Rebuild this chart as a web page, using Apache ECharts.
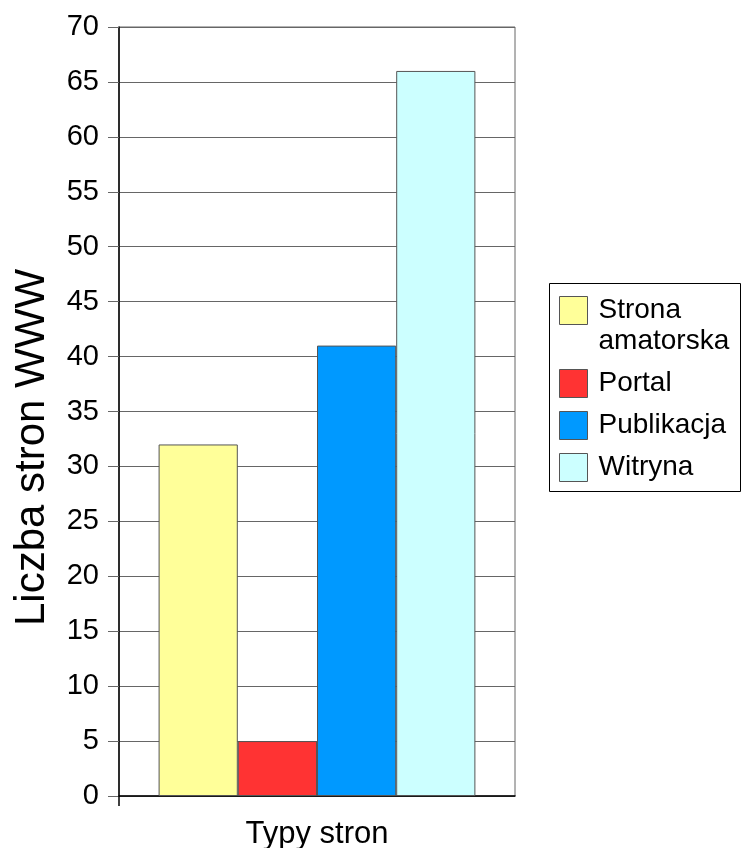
<!DOCTYPE html>
<html>
<head>
<meta charset="utf-8">
<title>Typy stron</title>
<script src="https://cdn.jsdelivr.net/npm/echarts@6/dist/echarts.min.js"></script>
<style>
  html, body { margin: 0; padding: 0; background: #ffffff; }
  #chart { width: 741px; height: 848px; }
</style>
</head>
<body>
<div id="chart"></div>
<script>
// Data
const categories = ['Typy stron'];
const seriesNames = ['Strona amatorska', 'Portal', 'Publikacja', 'Witryna'];
const seriesValues = [32, 5, 41, 66];
const seriesColors = ['#FFFF99', '#FF3333', '#0099FF', '#CCFFFF'];
const yTicks = { min: 0, max: 70, interval: 5 };

const FONT = 'Liberation Sans, Arial, sans-serif';

const chart = echarts.init(document.getElementById('chart'), null, { renderer: 'canvas' });

const series = seriesNames.map((name, i) => ({
  name: name,
  type: 'bar',
  xAxisIndex: 0,
  data: [seriesValues[i]],
  barGap: '0%',
  barCategoryGap: '20%',
  itemStyle: { color: seriesColors[i], borderColor: '#555555', borderWidth: 1 },
  emphasis: { disabled: true }
}));

// Legend entries; the leading empty line keeps the swatch beside "Strona"
const legendData = seriesNames.map(name => ({
  name: name,
  itemStyle: { borderColor: '#555555', borderWidth: 1 }
}));

chart.setOption({
  animation: false,
  backgroundColor: '#ffffff',
  textStyle: { fontFamily: FONT },
  grid: {
    left: 119, right: 226, top: 27, bottom: 52,
    outerBoundsMode: 'none',
    containLabel: false,
    show: true, borderColor: '#666666', borderWidth: 1
  },
  legend: {
    orient: 'vertical',
    left: 559,
    top: 264,
    padding: 0,
    itemGap: 11,
    itemWidth: 28,
    itemHeight: 28,
    icon: 'rect',
    selectedMode: false,
    data: legendData,
    formatter: name => name === 'Strona amatorska' ? '\nStrona\namatorska' : name,
    textStyle: {
      fontFamily: FONT, fontSize: 28, lineHeight: 31, color: '#000000',
      padding: [0, 0, 0, 6]
    }
  },
  graphic: [{
    type: 'rect',
    shape: { x: 549.5, y: 283.5, width: 191, height: 208 },
    style: { fill: 'none', stroke: '#000000', lineWidth: 1 },
    silent: true
  }],
  xAxis: [{
    type: 'category',
    position: 'bottom',
    data: categories,
    name: categories[0],
    nameLocation: 'middle',
    nameGap: 23,
    nameTextStyle: { fontFamily: FONT, fontSize: 31, color: '#000000', verticalAlign: 'top' },
    axisLine: { lineStyle: { color: '#000000', width: 1.5 } },
    axisTick: { show: false },
    axisLabel: { show: false },
    splitLine: { show: false }
  }, {
    // helper axis: only the single tick below the left corner
    type: 'value',
    position: 'bottom',
    min: 0,
    max: 1,
    axisLine: { show: false },
    axisTick: { show: true, length: 10, customValues: [0], lineStyle: { color: '#000000', width: 1.5 } },
    axisLabel: { show: false },
    splitLine: { show: false }
  }],
  yAxis: {
    type: 'value',
    min: yTicks.min,
    max: yTicks.max,
    interval: yTicks.interval,
    name: 'Liczba stron WWW',
    nameLocation: 'middle',
    nameGap: 66,
    nameTextStyle: { fontFamily: FONT, fontSize: 42, color: '#000000', padding: [0, 72, 0, 0] },
    axisLine: { show: true, lineStyle: { color: '#000000', width: 1.5 } },
    axisTick: { show: true, length: 11, lineStyle: { color: '#666666', width: 1 } },
    axisLabel: { fontFamily: FONT, fontSize: 29, color: '#000000', margin: 20 },
    splitLine: { show: true, lineStyle: { color: '#666666', width: 1 } }
  },
  series: series
});
</script>
</body>
</html>
